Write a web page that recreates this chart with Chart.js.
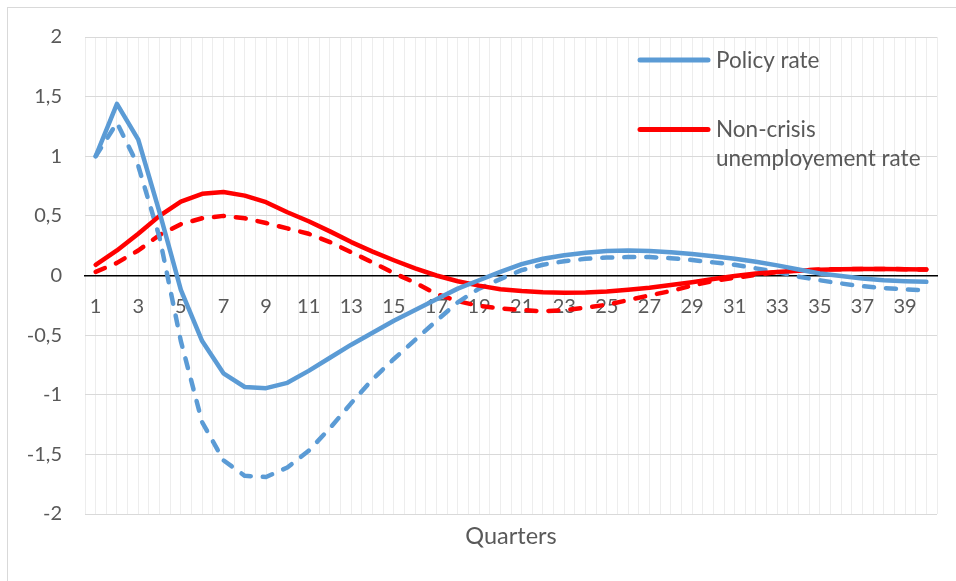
<!DOCTYPE html>
<html>
<head>
<meta charset="utf-8">
<script src="https://cdn.jsdelivr.net/npm/chart.js@4.4.1/dist/chart.umd.min.js"></script>
<style>
html, body { margin: 0; padding: 0; background: #ffffff; }
#wrap { position: relative; width: 956px; height: 581px; overflow: hidden; }
</style>
</head>
<body>
<div id="wrap"><canvas id="c" width="956" height="581"></canvas></div>
<script>
const quarters = [1,2,3,4,5,6,7,8,9,10,11,12,13,14,15,16,17,18,19,20,
                  21,22,23,24,25,26,27,28,29,30,31,32,33,34,35,36,37,38,39,40];

const policyRate = [1.00, 1.44, 1.14, 0.53, -0.12, -0.55, -0.82, -0.935, -0.945, -0.90,
                    -0.80, -0.69, -0.58, -0.48, -0.38, -0.29, -0.20, -0.11, -0.04, 0.03,
                    0.095, 0.14, 0.17, 0.19, 0.205, 0.21, 0.205, 0.195, 0.18, 0.162,
                    0.14, 0.115, 0.085, 0.05, 0.017, -0.005, -0.025, -0.04, -0.048, -0.053];

const unemploymentRate = [0.09, 0.21, 0.35, 0.50, 0.62, 0.685, 0.70, 0.67, 0.615, 0.53,
                          0.455, 0.37, 0.28, 0.20, 0.128, 0.06, 0.0, -0.048, -0.085, -0.115,
                          -0.13, -0.14, -0.145, -0.142, -0.134, -0.12, -0.103, -0.08, -0.056, -0.03,
                          -0.005, 0.017, 0.03, 0.04, 0.048, 0.053, 0.055, 0.055, 0.053, 0.05];

const policyRateDashed = [1.00, 1.28, 0.92, 0.32, -0.55, -1.23, -1.55, -1.68, -1.69, -1.61,
                          -1.47, -1.28, -1.07, -0.87, -0.70, -0.54, -0.38, -0.225, -0.11, -0.03,
                          0.045, 0.09, 0.12, 0.14, 0.15, 0.155, 0.155, 0.145, 0.13, 0.11,
                          0.09, 0.06, 0.03, -0.01, -0.04, -0.067, -0.09, -0.105, -0.117, -0.123];

const unemploymentRateDashed = [0.03, 0.106, 0.21, 0.34, 0.43, 0.48, 0.50, 0.48, 0.44, 0.395,
                                0.35, 0.28, 0.195, 0.11, 0.02, -0.06, -0.155, -0.215, -0.255, -0.275,
                                -0.29, -0.30, -0.29, -0.27, -0.245, -0.207, -0.167, -0.13, -0.085, -0.045,
                                -0.02, 0.005, 0.03, 0.043, 0.05, 0.053, 0.055, 0.055, 0.053, 0.05];

const yTicks = [-2, -1.5, -1, -0.5, 0, 0.5, 1, 1.5, 2];
const legendLabels = [["Policy rate"], ["Non-crisis", "unemployement rate"]];
const xTitle = "Quarters";

const BLUE = '#5B9BD5';
const RED = '#FF0000';
const TEXT = '#595959';
const FONT = 'Lato, "Open Sans", sans-serif';

function pts(arr) { return arr.map((v, i) => ({ x: quarters[i], y: v })); }

const frame = {
  id: 'frame',
  beforeDraw(chart) {
    const ctx = chart.ctx;
    ctx.save();
    ctx.fillStyle = '#ffffff';
    ctx.fillRect(0, 0, chart.width, chart.height);
    ctx.strokeStyle = '#d9d9d9';
    ctx.lineWidth = 1;
    ctx.strokeRect(7.5, 7.5, 1000, 1000);
    ctx.restore();
  },
  afterDraw(chart) {
    const ctx = chart.ctx;
    const area = chart.chartArea;
    ctx.save();
    // legend
    const colors = [BLUE, RED];
    const lineY = [60, 129.5];
    const baselines = [[67.5], [137], [165.5]];
    ctx.lineCap = 'round';
    ctx.lineWidth = 5;
    ctx.font = '22.5px ' + FONT;
    ctx.fillStyle = TEXT;
    ctx.textBaseline = 'alphabetic';
    ctx.textAlign = 'left';
    const bl = [[67.5], [137, 165.5]];
    for (let k = 0; k < 2; k++) {
      ctx.strokeStyle = colors[k];
      ctx.beginPath();
      ctx.moveTo(640, lineY[k]);
      ctx.lineTo(708, lineY[k]);
      ctx.stroke();
      legendLabels[k].forEach((t, j) => ctx.fillText(t, 716, bl[k][j]));
    }
    // x axis title
    ctx.font = '23.5px ' + FONT;
    ctx.textAlign = 'center';
    ctx.fillText(xTitle, (area.left + area.right) / 2, 544);
    ctx.restore();
  }
};

new Chart(document.getElementById('c'), {
  type: 'line',
  data: {
    datasets: [
      { label: 'Policy rate', data: pts(policyRate), borderColor: BLUE, borderWidth: 4.5,
        pointRadius: 0, tension: 0, borderCapStyle: 'round', borderJoinStyle: 'round' },
      { label: 'Non-crisis unemployement rate', data: pts(unemploymentRate), borderColor: RED, borderWidth: 4.5,
        pointRadius: 0, tension: 0, borderCapStyle: 'round', borderJoinStyle: 'round' },
      { label: 'Policy rate (dashed)', data: pts(policyRateDashed), borderColor: BLUE, borderWidth: 4.5,
        borderDash: [10, 12], pointRadius: 0, tension: 0, borderCapStyle: 'round', borderJoinStyle: 'round' },
      { label: 'Unemployement rate (dashed)', data: pts(unemploymentRateDashed), borderColor: RED, borderWidth: 4.5,
        borderDash: [10, 12], pointRadius: 0, tension: 0, borderCapStyle: 'round', borderJoinStyle: 'round' }
    ]
  },
  options: {
    responsive: false,
    animation: false,
    layout: { padding: { left: 0, top: 37, right: 18, bottom: 67 } },
    plugins: { legend: { display: false }, tooltip: { enabled: false }, title: { display: false } },
    scales: {
      x: {
        type: 'linear',
        position: { y: 0 },
        min: 0.5,
        max: 40.5,
        grid: { color: '#ededed', lineWidth: 1, drawTicks: false },
        border: { display: true, color: '#000000', width: 1.5 },
        ticks: {
          stepSize: 0.5,
          maxTicksLimit: 200,
          autoSkip: false,
          maxRotation: 0,
          padding: 19,
          color: TEXT,
          font: { family: FONT, size: 20 },
          callback: (v) => (Number.isInteger(v) && quarters.includes(v) && v % 2 === 1) ? String(v) : ''
        }
      },
      y: {
        type: 'linear',
        min: yTicks[0],
        max: yTicks[yTicks.length - 1],
        afterFit(scale) { scale.width = 85; },
        grid: { color: '#d9d9d9', lineWidth: 1, drawTicks: false },
        border: { display: false },
        ticks: {
          stepSize: 0.5,
          padding: 23,
          color: TEXT,
          font: { family: FONT, size: 20 },
          callback: (v) => yTicks.includes(v) ? String(v).replace('.', ',') : ''
        }
      }
    }
  },
  plugins: [frame]
});
</script>
</body>
</html>
